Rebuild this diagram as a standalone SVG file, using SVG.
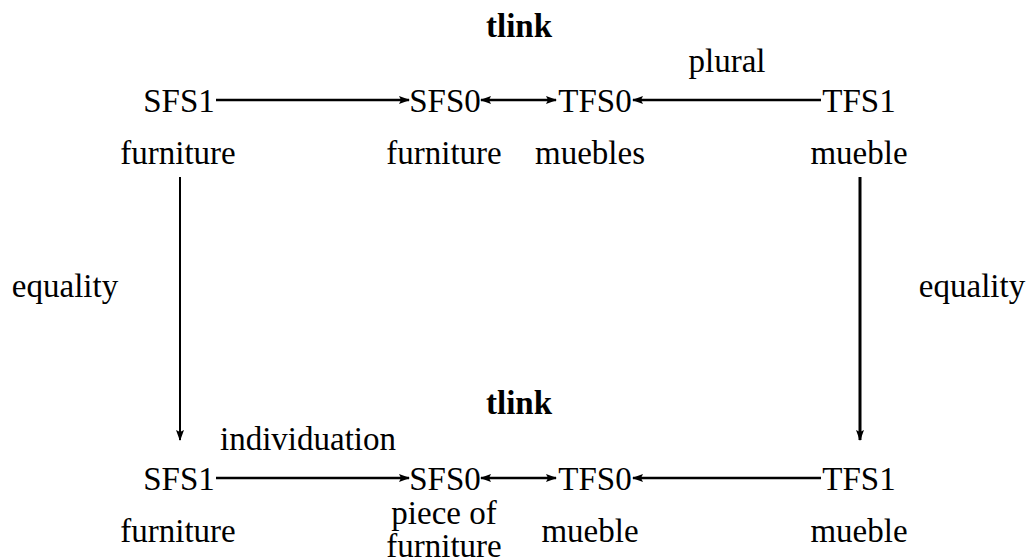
<svg xmlns="http://www.w3.org/2000/svg" width="1027" height="560" viewBox="0 0 1027 560">
<style>
text{font-family:'Liberation Serif','DejaVu Serif',serif;font-size:33px;fill:#000;text-anchor:middle}
.b{font-weight:bold}
.c line{stroke:#000;stroke-width:2.5;fill:none}
</style>
<defs>
<marker id="ah" markerUnits="userSpaceOnUse" markerWidth="11" markerHeight="11" viewBox="0 0 11 11" refX="10" refY="5.5" orient="auto-start-reverse">
<path d="M0,1.5 L11,5.5 L0,9.5 L2,5.5 Z" fill="#000"/>
</marker>
</defs>
<rect width="1027" height="560" fill="#fff"/>
<g class="c" id="connectors">
<line x1="216" y1="100" x2="409" y2="100" marker-end="url(#ah)"/>
<line x1="481" y1="100" x2="556" y2="100" marker-start="url(#ah)" marker-end="url(#ah)"/>
<line x1="821" y1="100" x2="633" y2="100" marker-end="url(#ah)"/>
<line x1="180" y1="177" x2="180" y2="440" style="stroke-width:2" marker-end="url(#ah)"/>
<line x1="860" y1="177" x2="860" y2="440" style="stroke-width:3" marker-end="url(#ah)"/>
<line x1="216" y1="478" x2="409" y2="478" marker-end="url(#ah)"/>
<line x1="481" y1="478" x2="556" y2="478" marker-start="url(#ah)" marker-end="url(#ah)"/>
<line x1="821" y1="478" x2="633" y2="478" marker-end="url(#ah)"/>
</g>
<g id="labels">
<text class="b" x="519" y="37">tlink</text>
<text x="727" y="72">plural</text>
<text x="65" y="297">equality</text>
<text x="972" y="297">equality</text>
<text class="b" x="519" y="414">tlink</text>
<text x="308" y="450">individuation</text>
</g>
<g id="top-SFS1"><text x="179" y="112">SFS1</text><text x="178" y="164">furniture</text></g>
<g id="top-SFS0"><text x="445" y="112">SFS0</text><text x="444" y="164">furniture</text></g>
<g id="top-TFS0"><text x="595" y="112">TFS0</text><text x="590" y="164">muebles</text></g>
<g id="top-TFS1"><text x="859" y="112">TFS1</text><text x="859" y="164">mueble</text></g>
<g id="bot-SFS1"><text x="179" y="490">SFS1</text><text x="178" y="542">furniture</text></g>
<g id="bot-SFS0"><text x="445" y="490">SFS0</text><text x="444" y="524">piece of</text><text x="444" y="557">furniture</text></g>
<g id="bot-TFS0"><text x="595" y="490">TFS0</text><text x="590" y="542">mueble</text></g>
<g id="bot-TFS1"><text x="859" y="490">TFS1</text><text x="859" y="542">mueble</text></g>
</svg>
